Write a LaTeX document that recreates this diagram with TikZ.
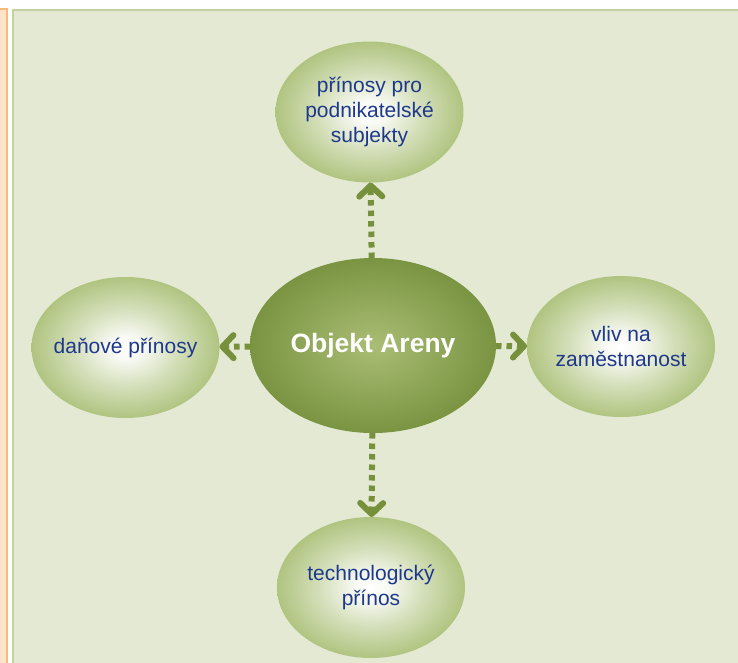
\documentclass[tikz,border=0pt]{standalone}
\usepackage{fontspec}
\setmainfont{Liberation Sans}
\usetikzlibrary{shapes.geometric,arrows.meta}

\definecolor{panelbg}{RGB}{228,233,212}
\definecolor{panelline}{RGB}{196,210,162}
\definecolor{stripbg}{RGB}{253,228,200}
\definecolor{stripline}{RGB}{245,187,124}
\definecolor{bubbleout}{RGB}{176,196,128}
\definecolor{corein}{RGB}{170,189,116}
\definecolor{coreout}{RGB}{122,148,66}
\definecolor{arrowgreen}{RGB}{118,144,60}
\definecolor{labelblue}{RGB}{30,56,140}

\pgfdeclareradialshading{bubbleshade}{\pgfpoint{0bp}{0bp}}{color(0bp)=(white); color(4bp)=(white!92!bubbleout); color(14bp)=(bubbleout!55!white); color(25bp)=(bubbleout); color(50bp)=(bubbleout)}

\tikzset{every picture/.style={line width=0.75pt}}
\tikzset{
  bubble/.style={ellipse, shade, shading=bubbleshade, inner xsep=-10pt, inner ysep=0pt, outer sep=0pt,
    minimum width=188, minimum height=141, text=labelblue, align=center,
    font=\fontsize{21}{25}\selectfont},
  core/.style={ellipse, inner color=corein, outer color=coreout, inner sep=0pt, outer sep=0pt,
    minimum width=246, minimum height=175, text=white,
    font=\fontsize{26.5}{30}\selectfont\bfseries},
  link/.style={draw=arrowgreen, line width=6pt, dash pattern=on 5.5pt off 5pt,
    -{Straight Barb[length=11pt,width=23pt,round]}}
}

\begin{document}
\begin{tikzpicture}[x=1pt,y=1pt,yscale=-1,xscale=1]
\useasboundingbox (0,0) rectangle (738,662);

%Shape: Rectangle (side strip)
\fill [stripbg] (-5,9) rectangle (7,670);
\draw [stripline, line width=1.5pt] (-5,9) -- (7,9) -- (7,670);
%Shape: Rectangle (panel)
\draw [draw=panelline, fill=panelbg, line width=1.5pt] (13,10) rectangle (745,670);

%Shape: Ellipse (centre)
\node [core] (arena) at (373,345.5) {Objekt Areny};
%Shape: Ellipse (top)
\node [bubble] (firms) at (369.5,112) {přínosy pro\\podnikatelské\\subjekty};
%Shape: Ellipse (left)
\node [bubble] (tax) at (125.5,347.5) {daňové přínosy};
%Shape: Ellipse (right)
\node [bubble] (jobs) at (621,346.5) {vliv na\\zaměstnanost};
%Shape: Ellipse (bottom)
\node [bubble] (tech) at (371,587.5) {technologický\\přínos};

% Arrows
\draw [link] (arena) -- (firms);
\draw [link] (arena) -- (tax);
\draw [link] (arena) -- (jobs);
\draw [link] (arena) -- (tech);

\end{tikzpicture}
\end{document}
